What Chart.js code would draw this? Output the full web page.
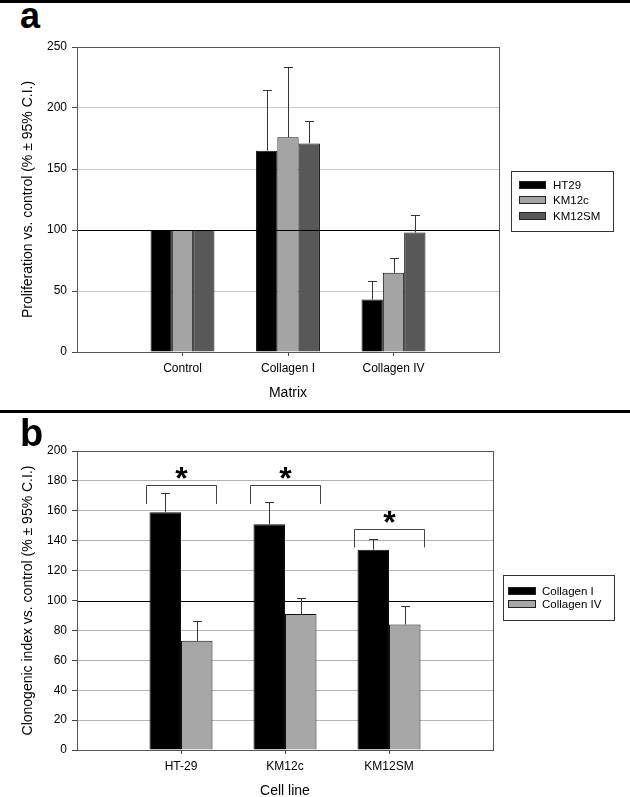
<!DOCTYPE html>
<html lang="en">
<head>
<meta charset="UTF-8">
<title>Proliferation and clonogenic index vs. control</title>
<script src="https://cdn.jsdelivr.net/npm/chart.js"></script>
<style>
  html, body { margin: 0; padding: 0; background: #fff; overflow: hidden; }
  body { width: 630px; height: 797px; position: relative; font-family: "Liberation Sans", Arial, sans-serif; }
  .rule { position: absolute; left: 0; width: 630px; background: #000; }
  .letter { position: absolute; left: 20px; font-weight: bold; color: #000; }
  canvas { position: absolute; left: 0; }
</style>
</head>
<body>
  <div class="rule" style="top:0; height:3px;"></div>
  <div class="letter" style="top:-2px; font-size:36px; line-height:36px;">a</div>
  <canvas id="chartA" width="630" height="412" style="top:0;"></canvas>

  <div class="rule" style="top:410px; height:3px;"></div>
  <div class="letter" style="top:414px; font-size:38px; line-height:38px;">b</div>
  <canvas id="chartB" width="630" height="400" style="top:412px;"></canvas>

<script>
// panel a: proliferation by matrix
const matrixLabels = ['Control', 'Collagen I', 'Collagen IV'];
const ht29 = [100, 165, 43];
const ht29Upper = [null, 215, 58];
const km12c = [100, 176, 65];
const km12cUpper = [null, 234, 77];
const km12sm = [100, 171, 98];
const km12smUpper = [null, 189, 112];

// panel b: clonogenic index by cell line
const cellLines = ['HT-29', 'KM12c', 'KM12SM'];
const collagenI = [159, 151, 134];
const collagenIUpper = [172, 166, 141];
const collagenIV = [73, 91, 84];
const collagenIVUpper = [86.5, 102, 96.5];
const sigTop = [177, 177, 147.5];
const sigLeg = [164.5, 164.5, 135.5];

const FONT = '"Liberation Sans", Arial, sans-serif';
Chart.defaults.font.family = FONT;
Chart.defaults.color = '#000';

// empty slot on each side so the groups sit like the original axis
const pad = (arr) => [null, ...arr, null];

const framePlugin = {
  id: 'frame',
  afterDatasetsDraw(chart) {
    const { ctx, chartArea: a, scales: { y } } = chart;
    ctx.save();
    // control level line over the bars
    const yy = Math.round(y.getPixelForValue(100)) + 0.5;
    ctx.strokeStyle = '#000';
    ctx.lineWidth = 1;
    ctx.beginPath();
    ctx.moveTo(a.left, yy);
    ctx.lineTo(a.right, yy);
    ctx.stroke();
    ctx.strokeStyle = '#555';
    ctx.strokeRect(Math.round(a.left) + 0.5, Math.round(a.top) + 0.5,
      Math.round(a.right - a.left), Math.round(a.bottom - a.top));
    ctx.restore();
  }
};

const errorPlugin = {
  id: 'errorBars',
  afterDatasetsDraw(chart) {
    const { ctx, scales: { y } } = chart;
    ctx.save();
    ctx.strokeStyle = '#333';
    ctx.lineWidth = 1;
    chart.data.datasets.forEach((ds, di) => {
      const meta = chart.getDatasetMeta(di);
      meta.data.forEach((bar, i) => {
        const up = ds.errorUpper[i];
        if (up == null || ds.data[i] == null) return;
        const x = Math.round(bar.x) + 0.5;
        const y0 = bar.y;
        const y1 = Math.round(y.getPixelForValue(up)) + 0.5;
        ctx.beginPath();
        ctx.moveTo(x, y0);
        ctx.lineTo(x, y1);
        ctx.moveTo(x - 4.5, y1);
        ctx.lineTo(x + 4.5, y1);
        ctx.stroke();
      });
    });
    ctx.restore();
  }
};

const boxLegendPlugin = {
  id: 'boxLegend',
  afterDraw(chart, args, o) {
    const { ctx } = chart;
    ctx.save();
    ctx.strokeStyle = '#333';
    ctx.lineWidth = 1;
    ctx.strokeRect(o.left + 0.5, o.top + 0.5, o.width, o.height);
    ctx.font = o.fontSize + 'px ' + FONT;
    ctx.textBaseline = 'middle';
    chart.data.datasets.forEach((ds, i) => {
      const cy = o.firstRow + i * o.rowGap;
      const sy = Math.round(cy - o.swatchH / 2);
      ctx.fillStyle = ds.backgroundColor;
      ctx.fillRect(o.swatchX, sy, o.swatchW, o.swatchH);
      ctx.strokeStyle = '#222';
      ctx.strokeRect(o.swatchX + 0.5, sy + 0.5, o.swatchW - 1, o.swatchH - 1);
      ctx.fillStyle = '#000';
      ctx.fillText(ds.label, o.textX, cy + 1);
    });
    ctx.restore();
  }
};

const sigPlugin = {
  id: 'sigBrackets',
  afterDatasetsDraw(chart, args, o) {
    if (!o.top) return;
    const { ctx, scales: { y } } = chart;
    const m0 = chart.getDatasetMeta(0).data;
    const m1 = chart.getDatasetMeta(1).data;
    ctx.save();
    ctx.strokeStyle = '#444';
    ctx.lineWidth = 1;
    o.top.forEach((t, i) => {
      const b0 = m0[i + 1], b1 = m1[i + 1];
      const left = Math.round(b0.x - b0.width / 2 - 3.5) + 0.5;
      const right = Math.round(b1.x + b1.width / 2 + 3.5) + 0.5;
      const yt = Math.round(y.getPixelForValue(t)) + 0.5;
      const yl = y.getPixelForValue(o.leg[i]);
      ctx.beginPath();
      ctx.moveTo(left, yl);
      ctx.lineTo(left, yt);
      ctx.lineTo(right, yt);
      ctx.lineTo(right, yl);
      ctx.stroke();
      ctx.fillStyle = '#000';
      ctx.font = 'bold 32px ' + FONT;
      ctx.textAlign = 'center';
      ctx.textBaseline = 'alphabetic';
      ctx.fillText('*', (left + right) / 2, yt + 3);
    });
    ctx.restore();
  }
};

function makeChart(id, cfg) {
  return new Chart(document.getElementById(id), {
    type: 'bar',
    data: { labels: pad(cfg.labels), datasets: cfg.datasets },
    options: {
      responsive: false,
      animation: false,
      layout: { padding: cfg.padding },
      datasets: { bar: { categoryPercentage: 0.606, barPercentage: 1 } },
      plugins: {
        legend: { display: false },
        tooltip: { enabled: false },
        boxLegend: cfg.legend,
        sigBrackets: cfg.sig || {}
      },
      scales: {
        x: {
          offset: false,
          grid: {
            offset: false,
            drawOnChartArea: false,
            tickLength: 4,
            tickColor: (c) => (c.tick && c.tick.label ? '#444' : 'rgba(0,0,0,0)')
          },
          border: { display: false },
          ticks: { autoSkip: false, maxRotation: 0, padding: 5, font: { size: 12 }, color: '#000' },
          title: { display: true, text: cfg.xTitle, font: { size: 14 }, color: '#000',
                   padding: { top: 4, bottom: cfg.xTitlePad } },
          afterFit: (s) => { s.height = cfg.xHeight; }
        },
        y: {
          min: 0,
          max: cfg.yMax,
          ticks: { stepSize: cfg.yStep, padding: 5, font: { size: 12 }, color: '#000' },
          grid: {
            color: (c) => (c.tick.value === 100 ? 'rgba(0,0,0,0)' : cfg.gridColor),
            tickColor: '#444',
            tickLength: 5
          },
          border: { display: false },
          title: { display: true, text: cfg.yTitle, font: { size: 14 }, color: '#000',
                   padding: { top: 20, bottom: 0 } },
          afterFit: (s) => { s.width = 77; }
        }
      }
    },
    plugins: [framePlugin, errorPlugin, sigPlugin, boxLegendPlugin]
  });
}

makeChart('chartA', {
  labels: matrixLabels,
  datasets: [
    { label: 'HT29', data: pad(ht29), errorUpper: pad(ht29Upper), backgroundColor: '#000000', borderColor: '#111', borderWidth: 1 },
    { label: 'KM12c', data: pad(km12c), errorUpper: pad(km12cUpper), backgroundColor: '#a4a4a4', borderColor: '#111', borderWidth: 1 },
    { label: 'KM12SM', data: pad(km12sm), errorUpper: pad(km12smUpper), backgroundColor: '#585858', borderColor: '#111', borderWidth: 1 }
  ],
  padding: { top: 47, right: 131, left: 0, bottom: 0 },
  xTitle: 'Matrix',
  xTitlePad: 10,
  xHeight: 60,
  yMax: 250,
  yStep: 50,
  yTitle: 'Proliferation vs. control (% \u00b1 95% C.I.)',
  gridColor: '#c8c8c8',
  legend: { left: 511, top: 171, width: 102, height: 60, firstRow: 185, rowGap: 15.3,
            swatchX: 519, swatchW: 27, swatchH: 8, textX: 553, fontSize: 11.5 }
});

makeChart('chartB', {
  labels: cellLines,
  datasets: [
    { label: 'Collagen I', data: pad(collagenI), errorUpper: pad(collagenIUpper), backgroundColor: '#000000', borderColor: '#111', borderWidth: 1 },
    { label: 'Collagen IV', data: pad(collagenIV), errorUpper: pad(collagenIVUpper), backgroundColor: '#a6a6a6', borderColor: '#111', borderWidth: 1 }
  ],
  padding: { top: 39, right: 137, left: 0, bottom: 0 },
  xTitle: 'Cell line',
  xTitlePad: 12,
  xHeight: 62,
  yMax: 200,
  yStep: 20,
  yTitle: 'Clonogenic index vs. control (% \u00b1 95% C.I.)',
  gridColor: '#b4b4b4',
  legend: { left: 503, top: 163, width: 111, height: 45, firstRow: 179, rowGap: 12.7,
            swatchX: 508, swatchW: 28, swatchH: 8, textX: 542, fontSize: 11.5 },
  sig: { top: sigTop, leg: sigLeg }
});
</script>
</body>
</html>
